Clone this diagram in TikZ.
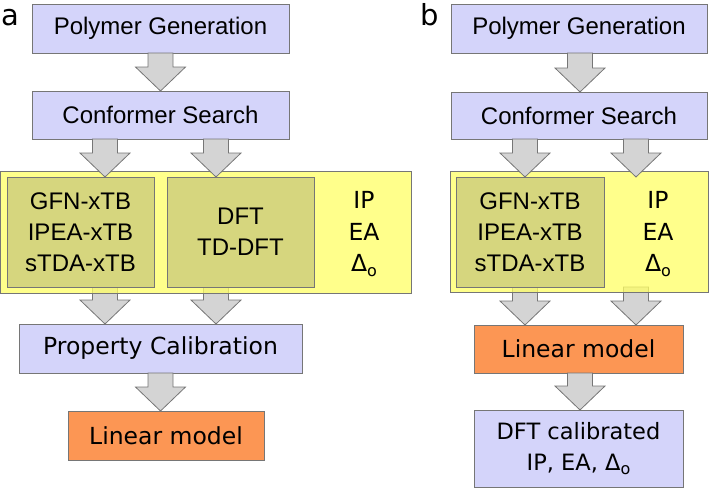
\documentclass[tikz,border=0pt]{standalone}
\usepackage{fontspec}
\setmainfont{Liberation Sans}
\newfontfamily\verd{DejaVu Sans}
\usetikzlibrary{calc}
\definecolor{lav}{RGB}{212,212,250}
\definecolor{yel}{RGB}{255,255,100}
\definecolor{oliv}{RGB}{214,214,126}
\definecolor{orng}{RGB}{252,150,84}
\definecolor{arrfill}{RGB}{212,212,212}
\definecolor{edge}{RGB}{118,118,118}
\tikzset{
  box/.style={draw=edge, line width=0.9pt, inner sep=0pt, outer sep=0pt, align=center,
     font=\fontsize{24}{31}\selectfont},
  lavbox/.style={box, fill=lav},
  orbox/.style={box, fill=orng, font=\verd\fontsize{23.5}{31}\selectfont},
  yelbox/.style={draw=edge, line width=0.9pt, fill=yel, fill opacity=0.75, draw opacity=1, inner sep=0pt, outer sep=0pt},
  olbox/.style={box, fill=oliv},
  proptext/.style={inner sep=0pt, align=center, font=\verd\fontsize{23.5}{31.5}\selectfont},
  panellabel/.style={inner sep=0pt, anchor=base, font=\verd\fontsize{29}{29}\selectfont},
  barrow/.style={draw=edge, line width=0.8pt, fill=arrfill, line join=miter}
}
\newcommand{\blockarrow}[3]{%
  \filldraw[barrow] let \p1=(#2), \p2=(#3) in
    ({#1pt-12.5pt},\y1) -- ({#1pt-12.5pt},{\y2+24pt}) -- ({#1pt-25pt},{\y2+24pt})
    -- (#1pt,\y2) -- ({#1pt+25pt},{\y2+24pt}) -- ({#1pt+12.5pt},{\y2+24pt})
    -- ({#1pt+12.5pt},\y1) -- cycle;}
\newcommand{\dsub}{$\Delta$}
\newcommand{\Dlto}{\raisebox{0pt}{Δ}\raisebox{-0.35ex}{\fontsize{16}{16}\selectfont o}}
\begin{document}
\begin{tikzpicture}[x=1pt,y=-1pt]
\useasboundingbox (0,0) rectangle (710,488);
% ---------------- panel a ----------------
\node[panellabel] (la) at (10,25) {a};
\node[lavbox, minimum width=257, minimum height=49] (pga) at (160.5,28.5) {Polymer Generation};
\node[lavbox, minimum width=257, minimum height=48] (csa) at (160.5,115) {Conformer Search};
\node[inner sep=0pt, outer sep=0pt, minimum width=147, minimum height=110] (gfnapos) at (80.5,232) {};
\node[inner sep=0pt, outer sep=0pt, minimum width=147, minimum height=110] (dftapos) at (240.5,232) {};
\node[orbox, font=\verd\fontsize{23.5}{31}\selectfont, fill=lav, minimum width=283, minimum height=49] (pca) at (160.5,348.5) {Property Calibration};
\node[orbox, minimum width=196, minimum height=49] (lma) at (166,435.5) {Linear model};
% arrows below the yellow block (drawn first, under the translucent yellow)
\blockarrow{105}{gfnapos.south}{pca.north}
\blockarrow{216}{dftapos.south}{pca.north}
\node[yelbox, minimum width=411, minimum height=122] (yela) at (206,232) {};
\node[olbox, minimum width=147, minimum height=110] (gfna) at (80.5,232) {GFN-xTB\\IPEA-xTB\\sTDA-xTB};
\node[olbox, minimum width=147, minimum height=110] (dfta) at (240.5,232) {DFT\\TD-DFT};
\node[proptext] (pra) at (364,234) {IP\\EA\\\Dlto};
\blockarrow{160.5}{pga.south}{csa.north}
\blockarrow{105}{csa.south}{gfna.north}
\blockarrow{216}{csa.south}{dfta.north}
\blockarrow{160.5}{pca.south}{lma.north}
% ---------------- panel b ----------------
\node[panellabel] (lb) at (430,25) {b};
\node[lavbox, minimum width=256, minimum height=49] (pgb) at (579,28.5) {Polymer Generation};
\node[lavbox, minimum width=256, minimum height=47] (csb) at (579,115.5) {Conformer Search};
\node[inner sep=0pt, outer sep=0pt, minimum width=148, minimum height=110] (gfnbpos) at (530,232) {};
\node[orbox, minimum width=209, minimum height=48] (lmb) at (578.5,349) {Linear model};
\node[orbox, fill=lav, font=\verd\fontsize{22.5}{31}\selectfont, minimum width=209, minimum height=77] (dftb) at (578.5,448.5) {DFT calibrated\\IP, EA, \Dlto};
\blockarrow{525}{gfnbpos.south}{lmb.north}
\blockarrow{636}{gfnbpos.south}{lmb.north}
\node[yelbox, minimum width=258, minimum height=121] (yelb) at (579,231.5) {};
\node[olbox, minimum width=148, minimum height=110] (gfnb) at (530,232) {GFN-xTB\\IPEA-xTB\\sTDA-xTB};
\node[proptext] (prb) at (658,234) {IP\\EA\\\Dlto};
\blockarrow{580}{pgb.south}{csb.north}
\blockarrow{525}{csb.south}{gfnb.north}
\blockarrow{636}{csb.south}{gfnb.north}
\blockarrow{580}{lmb.south}{dftb.north}
\end{tikzpicture}
\end{document}
